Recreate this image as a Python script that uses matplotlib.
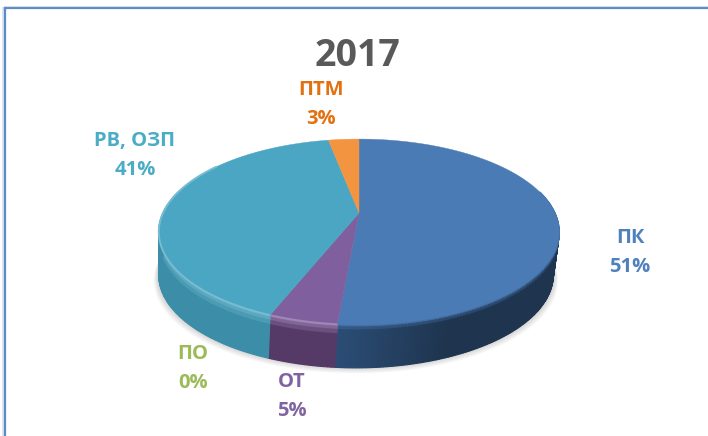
import matplotlib
matplotlib.use('Agg')
import matplotlib.pyplot as plt
import numpy as np

plt.rcParams['font.family'] = ['Open Sans', 'DejaVu Sans']

title = '2017'
categories = ['ПК', 'ОТ', 'ПО', 'РВ, ОЗП', 'ПТМ']
values = [51.4, 4.6, 0.0, 41.0, 3.0]
percent_labels = ['51%', '5%', '0%', '41%', '3%']

top_colors = ['#4b7bb5', '#7f5f9e', '#8fb050', '#4aa6c2', '#f29440']
side_colors = ['#2b4d75', '#553a68', '#6f8a3a', '#3c8ea8', '#c0702c']
label_colors = ['#4f81bd', '#8064a2', '#9bbb59', '#4bacc6', '#e4700f']
label_pos = [(630, 252), (292, 396), (193, 368), (135, 155), (321, 104)]

# pie geometry in pixels, with a small perspective so the apex sits above the ellipse middle
cx, cy = 359, 213
A, B, k = 196, 89, 0.204
depth = 43


def project(t):
    u, v = np.sin(t), np.cos(t)
    w = 1 + k * v
    return cx + A * u / w, cy - B * v / w


def lower(x, y):
    return cx + (x - cx) * 0.985 - 3, y + depth


def mix(c1, c2, f):
    c1 = np.array(matplotlib.colors.to_rgb(c1))
    c2 = np.array(matplotlib.colors.to_rgb(c2))
    return tuple(c1 + (c2 - c1) * f)


fig = plt.figure(figsize=(7.08, 4.36), dpi=100)
ax = fig.add_axes([0, 0, 1, 1])
ax.set_xlim(0, 708)
ax.set_ylim(436, 0)
ax.axis('off')

# frame: only left and top lines
ax.plot([2.5, 2.5], [8, 436], color='#d5dfea', lw=1.2)
ax.plot([5, 5], [8, 436], color='#5b8bc8', lw=1.6)
ax.plot([5, 708], [8, 8], color='#5b8bc8', lw=1.6)
ax.plot([5, 708], [5.8, 5.8], color='#d5dfea', lw=0.8)

# soft shadow under the pie, only peeking out at the bottom
tt = np.linspace(0, 2 * np.pi, 200)
px, py = project(tt)
for grow in np.linspace(8, 1, 8):
    sx = cx + (px - cx) * (0.99 + grow / 400) - 3
    sy = py + depth + grow * 0.7
    ax.fill(sx, sy, color='#707070', alpha=0.035, lw=0, zorder=1)

# angles of the wedges, clockwise from the top
edges = np.concatenate([[0], np.cumsum(values)]) / np.sum(values) * 2 * np.pi

# side wall, drawn in thin strips
bands = [0, 0.05, 0.12, 0.22, 0.35, 1.0]
for i in range(len(values)):
    if values[i] == 0:
        continue
    steps = np.linspace(edges[i], edges[i + 1], max(2, int((edges[i + 1] - edges[i]) * 70)))
    for t0, t1 in zip(steps[:-1], steps[1:]):
        if np.cos((t0 + t1) / 2) > 0.25:
            continue
        x0, y0 = project(t0)
        x1, y1 = project(t1)
        xb0, yb0 = lower(x0, y0)
        xb1, yb1 = lower(x1, y1)
        # the blue wall gets darker quickly going right
        shade = np.clip((x0 - 340) / 110, 0, 1) * 0.85
        base = mix(side_colors[i], '#1c3048', shade)
        for f0, f1 in zip(bands[:-1], bands[1:]):
            fm = (f0 + f1) / 2
            if i == 0:
                col = mix(top_colors[i], base, min(1, fm / 0.12))
            else:
                glow = mix(top_colors[i], '#ffffff', 0.18)
                col = mix(glow, base, min(1, fm / 0.25))
            q = [(x0 + (xb0 - x0) * f0, y0 + (yb0 - y0) * f0),
                 (x1 + (xb1 - x1) * f0, y1 + (yb1 - y1) * f0),
                 (x1 + (xb1 - x1) * f1, y1 + (yb1 - y1) * f1),
                 (x0 + (xb0 - x0) * f1, y0 + (yb0 - y0) * f1)]
            ax.fill(*zip(*q), facecolor=col, edgecolor=col, lw=0.9, zorder=2)

# top face
for i in range(len(values)):
    if values[i] == 0:
        continue
    t = np.linspace(edges[i], edges[i + 1], 120)
    x, y = project(t)
    ax.fill(np.r_[cx, x], np.r_[cy, y], color=top_colors[i], lw=0.3, zorder=3)
    # thin rim light, only on the coloured wedges that catch it
    if i == 3 or i == 1:
        front = np.cos(t) < 0.6
        ax.plot(x[front], y[front], color=mix(top_colors[i], '#ffffff', 0.25), lw=1.4, zorder=4,
                solid_capstyle='butt')

# text
ax.text(358, 56, title, color='#595959', fontsize=27, fontweight='bold', ha='center', va='center')
for name, pct, col, pos in zip(categories, percent_labels, label_colors, label_pos):
    ax.text(pos[0], pos[1], name + '\n' + pct, color=col, fontsize=14.5, fontweight='bold',
            ha='center', va='center', linespacing=1.6)

fig.savefig('out.png', dpi=100)
